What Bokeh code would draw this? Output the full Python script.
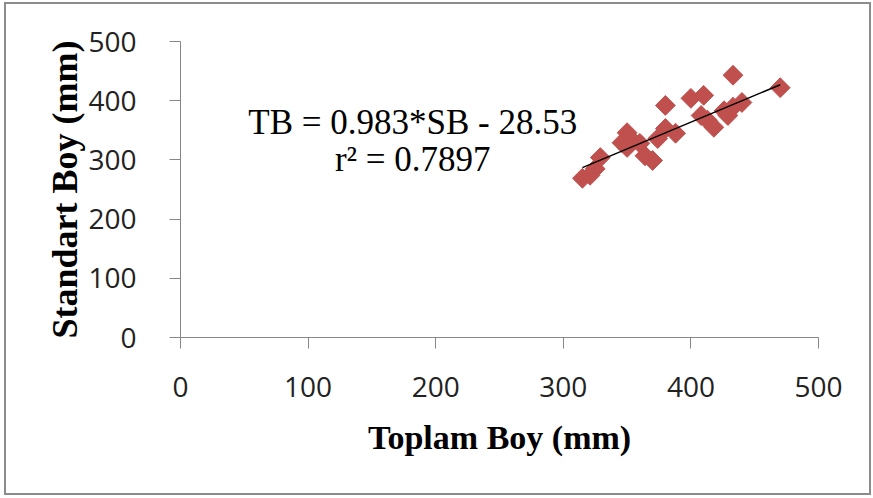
from bokeh.plotting import figure
from bokeh.models import Range1d, FixedTicker, Label
from bokeh.embed import file_html
from bokeh.resources import INLINE

# Data
toplam_boy = [315, 321, 325, 329, 346, 350, 350, 354, 360, 364, 370, 374, 380,
              380, 388, 400, 408, 410, 413, 418, 426, 429, 433, 433, 440, 470]
standart_boy = [269, 274, 285, 304, 329, 346, 321, 333, 328, 307, 299, 336, 353,
                392, 345, 404, 375, 409, 367, 355, 383, 375, 389, 443, 397, 422]
trend_x = [315, 470]
trend_y = [287, 427]
ticks = [0, 100, 200, 300, 400, 500]
eq_line1 = "TB = 0.983*SB - 28.53"
eq_line2 = "r\u00b2 = 0.7897"

OX, OY = 7, 5          # offset of the figure on the page
W, H = 861, 487
p = figure(width=W, height=H, output_backend="svg", toolbar_location=None,
           x_range=Range1d(0, 500), y_range=Range1d(0, 500),
           min_border_left=180 - OX, min_border_right=W - (818 - OX),
           min_border_top=41 - OY, min_border_bottom=H - (337 - OY))
p.outline_line_color = None
p.grid.visible = False
p.background_fill_color = "white"
p.border_fill_color = "white"
p.styles = {"margin-left": f"{OX}px", "margin-top": f"{OY}px",
            "outline": "2px solid #8c8c8c", "outline-offset": "1px"}

for ax in (p.xaxis[0], p.yaxis[0]):
    ax.ticker = FixedTicker(ticks=ticks)
    ax.axis_line_color = "#868686"
    ax.major_tick_line_color = "#868686"
    ax.minor_tick_line_color = None
    ax.major_tick_in = 0
    ax.major_tick_out = 11
    ax.major_label_text_font = "Open Sans"
    ax.major_label_text_font_size = "28px"
    ax.major_label_text_color = "#222222"
    ax.axis_label_text_font = "Liberation Serif"
    ax.axis_label_text_font_style = "bold"
    ax.axis_label_text_color = "black"

p.xaxis.axis_label = "Toplam Boy (mm)"
p.xaxis.axis_label_text_font_size = "34px"
p.xaxis.major_label_standoff = 28
p.xaxis.axis_label_standoff = 19
p.yaxis.axis_label = "Standart Boy (mm)"
p.yaxis.axis_label_text_font_size = "36px"
p.yaxis.major_label_standoff = 33
p.yaxis.axis_label_standoff = 0

p.scatter(toplam_boy, standart_boy, marker="square", size=14, angle=0.785398,
          fill_color="#C0504D", line_color="#C0504D")
p.line(trend_x, trend_y, line_color="black", line_width=1.5)

p.add_layout(Label(x=182, y=363, text=eq_line1, text_align="center",
                   text_baseline="alphabetic", text_font="Liberation Serif",
                   text_font_size="35px", text_color="black"))
p.add_layout(Label(x=182, y=300, text=eq_line2, text_align="center",
                   text_baseline="alphabetic", text_font="Liberation Serif",
                   text_font_size="35px", text_color="black"))

open("out.html", "w").write(file_html(p, INLINE))
